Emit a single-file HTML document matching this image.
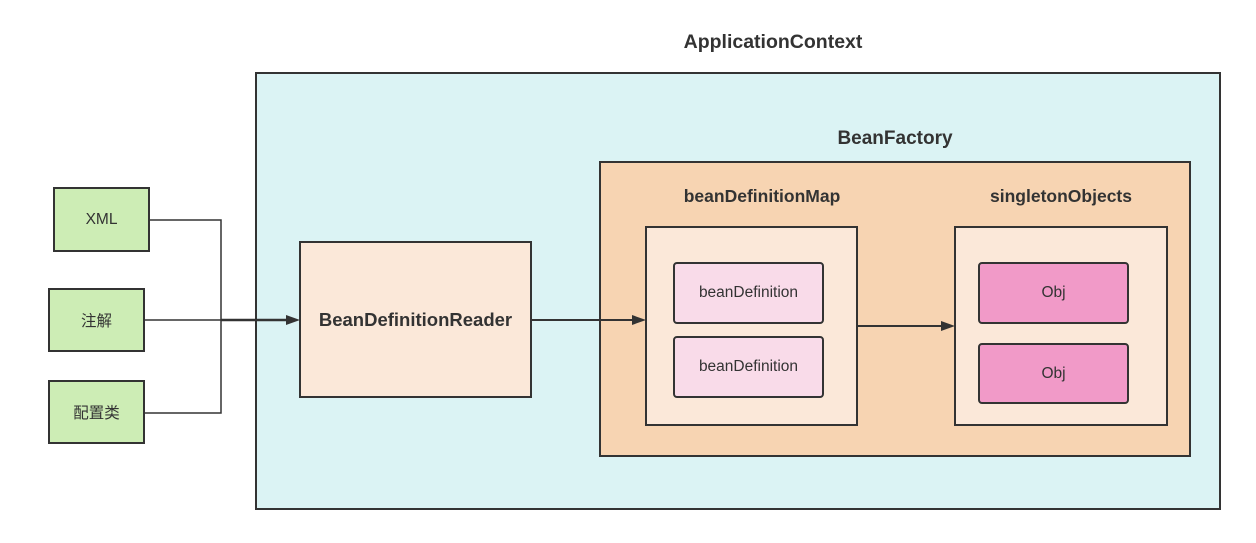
<!DOCTYPE html>
<html><head><meta charset="utf-8"><style>
body{margin:0;width:1256px;height:543px;background:#fff;position:relative;overflow:hidden;font-family:"Liberation Sans","Noto Sans CJK SC",sans-serif;color:#333}
.b{position:absolute;box-sizing:border-box;border:2px solid #333;display:flex;align-items:center;justify-content:center;font-size:15.5px}
.t{position:absolute;font-weight:bold;color:#333;text-align:center;transform:translateX(-50%);white-space:nowrap}
svg{position:absolute;left:0;top:0}
</style></head><body>
<div class="t" style="left:773px;top:31px;font-size:19.5px">ApplicationContext</div>
<div class="b" style="left:255px;top:72px;width:966px;height:438px;background:#dbf3f4"></div>
<div class="t" style="left:895px;top:128px;font-size:19px">BeanFactory</div>
<div class="b" style="left:599px;top:161px;width:592px;height:296px;background:#f7d4b2"></div>
<div class="t" style="left:762px;top:186px;font-size:17.5px">beanDefinitionMap</div>
<div class="t" style="left:1061px;top:186px;font-size:17.5px">singletonObjects</div>
<div class="b" style="left:53px;top:187px;width:97px;height:65px;background:#cdedb5">XML</div>
<div class="b" style="left:48px;top:288px;width:97px;height:64px;background:#cdedb5">注解</div>
<div class="b" style="left:48px;top:380px;width:97px;height:64px;background:#cdedb5">配置类</div>
<div class="b" style="left:299px;top:241px;width:233px;height:157px;background:#fbe8d9;font-size:18.5px;font-weight:bold">BeanDefinitionReader</div>
<div class="b" style="left:645px;top:226px;width:213px;height:200px;background:#fbe8d9"></div>
<div class="b" style="left:954px;top:226px;width:214px;height:200px;background:#fbe8d9"></div>
<div class="b" style="left:673px;top:262px;width:151px;height:62px;background:#f9dbe9;border-radius:4px">beanDefinition</div>
<div class="b" style="left:673px;top:336px;width:151px;height:62px;background:#f9dbe9;border-radius:4px">beanDefinition</div>
<div class="b" style="left:978px;top:262px;width:151px;height:62px;background:#f19ac8;border-radius:4px">Obj</div>
<div class="b" style="left:978px;top:343px;width:151px;height:61px;background:#f19ac8;border-radius:4px">Obj</div>
<svg width="1256" height="543">
<g stroke="#333" stroke-width="1.5" fill="none">
<polyline points="150,220 221,220 221,413 145,413"/>
<line x1="145" y1="320" x2="288" y2="320"/>
<line x1="221" y1="320" x2="288" y2="320" stroke-width="2.5"/>
<line x1="532" y1="320" x2="634" y2="320" stroke-width="2"/>
<line x1="858" y1="326" x2="943" y2="326" stroke-width="2"/>
</g>
<g fill="#333">
<polygon points="300,320 286,315 286,325"/>
<polygon points="646,320 632,315 632,325"/>
<polygon points="955,326 941,321 941,331"/>
</g>
</svg>
</body></html>
